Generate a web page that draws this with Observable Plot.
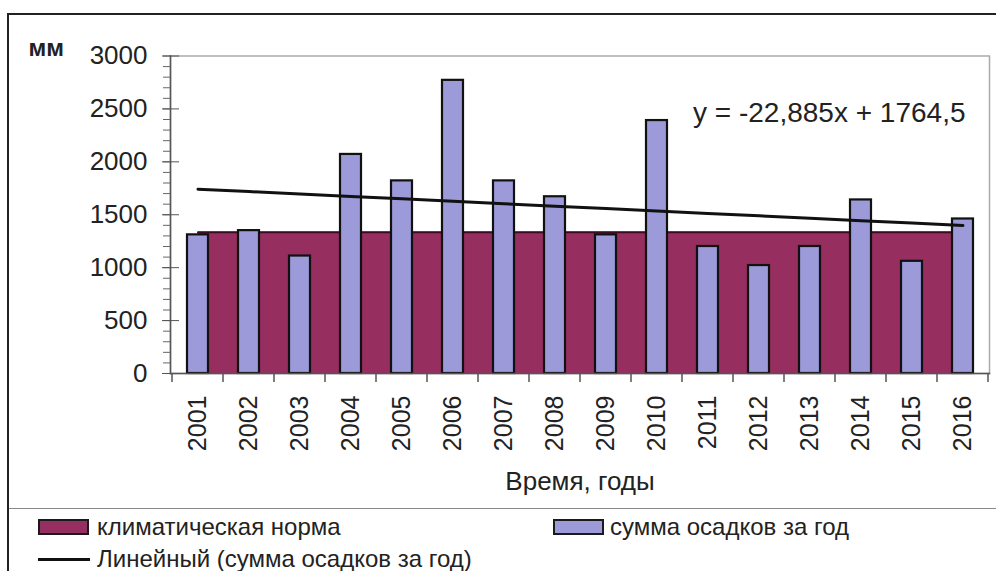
<!DOCTYPE html>
<html><head><meta charset="utf-8">
<script src="https://cdn.jsdelivr.net/npm/d3@7"></script>
<script src="https://cdn.jsdelivr.net/npm/@observablehq/plot@0.6"></script>
<style>
body{margin:0;background:#fff;font-family:"Liberation Sans",Arial,sans-serif;color:#222;}
#wrap{position:relative;width:996px;height:571px;overflow:hidden;background:#fff;}
#frame{position:absolute;left:7px;top:13px;width:1200px;height:800px;border-left:2px solid #222;border-top:2px solid #222;}
#chart{position:absolute;left:0;top:0;}
#sep{position:absolute;left:9px;top:508px;width:990px;height:0;border-top:1.5px solid #888;}
.sw{position:absolute;box-sizing:border-box;border:2px solid #1a1a1a;}
.lt{position:absolute;font-size:24px;line-height:28px;white-space:nowrap;color:#222;}
.ln{position:absolute;height:3px;background:#111;}
</style></head><body>
<div id="wrap">
  <div id="frame"></div>
  <div id="chart"></div>
  <div id="sep"></div>
  <div id="legend"></div>
</div>
<script>
// ---- data ----
const years = ["2001","2002","2003","2004","2005","2006","2007","2008","2009","2010","2011","2012","2013","2014","2015","2016"];
const precipitation = [1310,1350,1110,2070,1820,2770,1820,1670,1310,2390,1200,1020,1200,1640,1060,1460];
const climateNorm = [1335,1335,1335,1335,1335,1335,1335,1335,1335,1335,1335,1335,1335,1335,1335,1335];
// linear trend as given on the chart: y = -22,885x + 1764,5
const trendSlope = -22.885;
const trendIntercept = 1764.5;
const yMajorTicks = [0,500,1000,1500,2000,2500,3000];
const yMinorTicks = [0,100,200,300,400,500,600,700,800,900,1000,1100,1200,1300,1400,1500,1600,1700,1800,1900,2000,2100,2200,2300,2400,2500,2600,2700,2800,2900,3000];
const equationLabel = "y = -22,885x + 1764,5";
const xTitle = "Время, годы";
const yTitle = "мм";
const legendLabels = ["климатическая норма","сумма осадков за год","Линейный (сумма осадков за год)"];

const colNorm = "#962e60";
const colPrecip = "#9c9ad8";

const rows = years.map((year,i)=>({
  year,
  precip: precipitation[i],
  norm: climateNorm[i],
  trend: trendIntercept + trendSlope*(i+1)
}));

const plot = Plot.plot({
  width: 996, height: 571,
  marginLeft: 170, marginRight: 7, marginTop: 55.5, marginBottom: 198,
  style: {fontFamily: '"Liberation Sans", Arial, sans-serif', fontSize: "25px", color: "#222", background: "transparent", overflow: "visible"},
  x: {type: "band", domain: years, paddingInner: 0, paddingOuter: 0, label: null, axis: null},
  y: {domain: [0, 3000], label: null, axis: null},
  marks: [
    Plot.frame({stroke: "#aaa", strokeWidth: 1.5}),
    Plot.areaY(rows, {x: "year", y: "norm", fill: colNorm}),
    Plot.lineY(rows, {x: "year", y: "norm", stroke: "#3d0b22", strokeWidth: 2}),
    Plot.barY(rows, {x: "year", y: "precip", fill: colPrecip, stroke: "#111", strokeWidth: 2.2, insetLeft: 15, insetRight: 15}),
    Plot.line(rows, {x: "year", y: "trend", stroke: "#111", strokeWidth: 3}),
    Plot.frame({anchor: "left", stroke: "#555", strokeWidth: 1.5}),
    Plot.frame({anchor: "bottom", stroke: "#555", strokeWidth: 1.5}),
    Plot.axisY({ticks: yMinorTicks, tickSize: 7, tickFormat: () => "", stroke: "#666", label: null}),
    Plot.axisY({ticks: yMajorTicks, tickSize: 8, tickPadding: 15, tickFormat: d => String(d), fontSize: 26, stroke: "#555", label: null}),
    Plot.axisY({ticks: yMajorTicks, tickSize: -9, tickFormat: () => "", stroke: "#555", label: null}),
    Plot.axisX({tickRotate: -90, tickSize: 0, tickPadding: 22, fontSize: 25, label: null}),
    Plot.text([equationLabel], {text: d => d, frameAnchor: "top-right", dx: -24, dy: 57, textAnchor: "end", lineAnchor: "middle", fontSize: 28, fill: "#222"}),
    Plot.text([xTitle], {text: d => d, frameAnchor: "bottom", dy: 116, textAnchor: "middle", fontSize: 26, fill: "#222"}),
    Plot.text([yTitle], {text: d => d, frameAnchor: "top-left", dx: -142, dy: -8, textAnchor: "start", lineAnchor: "middle", fontSize: 24, fontWeight: "bold", fill: "#222"})
  ]
});

// boundary ticks on the category axis, from the plot's own scales
const xs = plot.scale("x"), ys = plot.scale("y");
const bounds = years.map(y => xs.apply(y)).concat([xs.apply(years[years.length-1]) + xs.bandwidth]);
const y0 = ys.apply(0);
d3.select(plot).append("g").attr("stroke", "#555").attr("stroke-width", 1.5)
  .selectAll("line").data(bounds).join("line")
  .attr("x1", d => d).attr("x2", d => d).attr("y1", y0).attr("y2", y0 + 9);

document.getElementById("chart").appendChild(plot);

// legend
const lg = document.getElementById("legend");
lg.innerHTML =
  `<div class="sw" style="left:38px;top:519px;width:51px;height:16px;background:${colNorm}"></div>` +
  `<div class="lt" style="left:97px;top:513px">${legendLabels[0]}</div>` +
  `<div class="sw" style="left:553px;top:519px;width:51px;height:16px;background:${colPrecip}"></div>` +
  `<div class="lt" style="left:610px;top:513px">${legendLabels[1]}</div>` +
  `<div class="ln" style="left:38px;top:558px;width:52px"></div>` +
  `<div class="lt" style="left:97px;top:545px">${legendLabels[2]}</div>`;
</script>
</body></html>
